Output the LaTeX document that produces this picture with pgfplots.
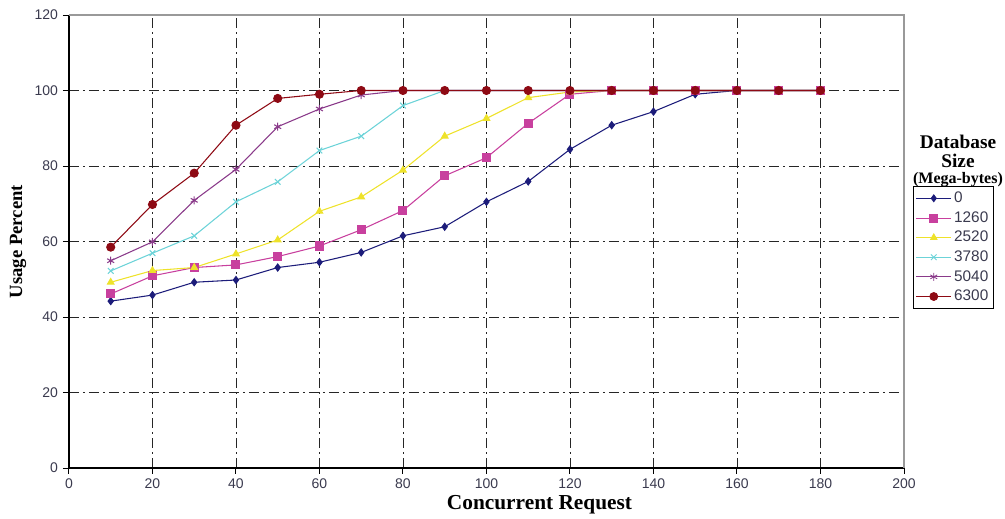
\documentclass[border=0pt]{standalone}
\usepackage{pgfplots}
\pgfplotsset{compat=1.18}
\usepackage{fontspec}
\setmainfont{Liberation Sans}
\newfontfamily\serifb{Liberation Serif}

\definecolor{tickgray}{HTML}{3A3A4E}
\definecolor{cNavy}{HTML}{1C1C7A}
\definecolor{cMag}{HTML}{C8409E}
\definecolor{cYel}{HTML}{EEE22A}
\definecolor{cCyan}{HTML}{6CD3D8}
\definecolor{cPurp}{HTML}{8A3A8A}
\definecolor{cRed}{HTML}{8E0A14}

\begin{document}
\begin{tikzpicture}
\begin{axis}[
    scale only axis,
    width=626.25pt, height=339.75pt,
    xmin=0, xmax=200, ymin=0, ymax=120,
    xtick={0,20,...,200}, ytick={0,20,...,120},
    axis x line*=bottom, axis y line*=left,
    axis line style={black, line width=0.9pt},
    tick align=outside, major tick length=4.5pt,
    tick style={black, line width=0.7pt},
    xticklabel={\pgfmathprintnumber[assume math mode=true]{\tick}},
    yticklabel={\pgfmathprintnumber[assume math mode=true]{\tick}},
    ticklabel style={font=\fontsize{10.5}{12}\selectfont, text=tickgray},
    grid=major,
    major grid style={black!85, line width=0.6pt, dash pattern=on 7.5pt off 3pt on 1.5pt off 3pt},
    xlabel={\serifb\bfseries Concurrent Request},
    ylabel={\serifb\bfseries Usage Percent},
    xlabel style={font=\fontsize{16}{18}\selectfont, at={(axis description cs:0.5635,-0.0817)}, anchor=center},
    ylabel style={font=\fontsize{14}{16}\selectfont, at={(axis description cs:-0.061,0.5)}, anchor=center},
    clip=false,
    line width=0.8pt,
    legend cell align=left,
    legend image code/.code={\draw[mark repeat=2, mark phase=2] plot coordinates {(0pt,0pt)(13pt,0pt)(26pt,0pt)};},
    legend style={at={(axis description cs:1.0108,0.622)}, anchor=north west,
        draw=black, line width=0.6pt, font=\fontsize{11.5}{12}\selectfont, text=tickgray,
        row sep=1.2pt, inner sep=2pt},
]
% frame on top and right, gray
\draw[white, line width=1.6pt] (rel axis cs:0,1) -- (rel axis cs:1,1) -- (rel axis cs:1,0);
\draw[black!40, line width=0.8pt] (rel axis cs:0,1) -- (rel axis cs:1,1) -- (rel axis cs:1,0);

\addplot[color=cNavy, mark=diamond*, mark size=2.6pt] coordinates {
(10,44.2)(20,45.8)(30,49.2)(40,49.8)(50,53.1)(60,54.5)(70,57.1)(80,61.5)(90,63.9)
(100,70.5)(110,75.9)(120,84.4)(130,90.8)(140,94.4)(150,99.0)(160,100)(170,100)(180,100)};
\addlegendentry{0}
\addplot[color=cMag, mark=square*, mark size=3pt] coordinates {
(10,46.1)(20,50.9)(30,53.1)(40,53.8)(50,56.0)(60,58.8)(70,63.1)(80,68.2)(90,77.4)
(100,82.2)(110,91.3)(120,99.0)(130,100)(140,100)(150,100)(160,100)(170,100)(180,100)};
\addlegendentry{1260}
\addplot[color=cYel, mark=triangle*, mark size=2.8pt] coordinates {
(10,49.2)(20,52.3)(30,53.1)(40,56.7)(50,60.4)(60,68.0)(70,71.8)(80,78.9)(90,87.9)
(100,92.6)(110,98.1)(120,99.6)(130,100)(140,100)(150,100)(160,100)(170,100)(180,100)};
\addlegendentry{2520}
\addplot[color=cCyan, mark=x, mark size=3pt] coordinates {
(10,52.2)(20,56.9)(30,61.5)(40,70.5)(50,75.8)(60,84.1)(70,87.9)(80,96.0)(90,100)
(100,100)(110,100)(120,100)(130,100)(140,100)(150,100)(160,100)(170,100)(180,100)};
\addlegendentry{3780}
\addplot[color=cPurp, mark=asterisk, mark size=3pt] coordinates {
(10,54.9)(20,59.9)(30,70.9)(40,79.1)(50,90.4)(60,95.1)(70,98.8)(80,100)(90,100)
(100,100)(110,100)(120,100)(130,100)(140,100)(150,100)(160,100)(170,100)(180,100)};
\addlegendentry{5040}
\addplot[color=cRed, mark=*, mark size=3pt] coordinates {
(10,58.5)(20,69.8)(30,78.1)(40,90.8)(50,97.9)(60,99.0)(70,100)(80,100)(90,100)
(100,100)(110,100)(120,100)(130,100)(140,100)(150,100)(160,100)(170,100)(180,100)};
\addlegendentry{6300}

% legend title
\node[inner sep=0pt, font=\serifb\bfseries\fontsize{14.5}{16}\selectfont] at (axis description cs:1.0647,0.7200) {Database};
\node[inner sep=0pt, font=\serifb\bfseries\fontsize{14.5}{16}\selectfont] at (axis description cs:1.0647,0.6790) {Size};
\node[inner sep=0pt, font=\serifb\bfseries\fontsize{12}{14}\selectfont] at (axis description cs:1.0647,0.6360) {(Mega-bytes)};

% page size as in the reference
\path (axis description cs:-0.0826,-0.1082) rectangle (axis description cs:1.1210,1.0331);
\end{axis}
\end{tikzpicture}
\end{document}
